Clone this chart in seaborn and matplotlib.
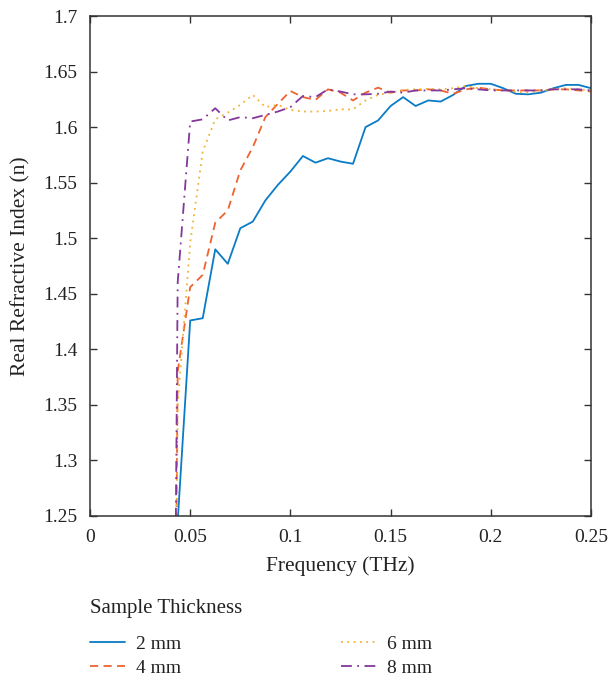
import matplotlib
matplotlib.use("Agg")
import matplotlib.pyplot as plt
import seaborn as sns
import pandas as pd
from matplotlib.ticker import FuncFormatter

freq = [0.0375, 0.04375, 0.05, 0.05625, 0.0625, 0.06875, 0.075, 0.08125, 0.0875, 0.09375,
        0.1, 0.10625, 0.1125, 0.11875, 0.125, 0.13125, 0.1375, 0.14375, 0.15, 0.15625,
        0.1625, 0.16875, 0.175, 0.18125, 0.1875, 0.19375, 0.2, 0.20625, 0.2125, 0.21875,
        0.225, 0.23125, 0.2375, 0.24375, 0.25]

n_2mm = [0.0, 1.245, 1.426, 1.428, 1.490, 1.477, 1.509, 1.515, 1.534, 1.548,
         1.560, 1.574, 1.568, 1.572, 1.569, 1.567, 1.600, 1.606, 1.619, 1.627,
         1.619, 1.624, 1.623, 1.629, 1.637, 1.639, 1.639, 1.635, 1.630, 1.6295,
         1.631, 1.635, 1.638, 1.638, 1.635]

n_4mm = [0.0, 1.38, 1.456, 1.467, 1.514, 1.525, 1.561, 1.582, 1.609, 1.621,
         1.6325, 1.627, 1.6245, 1.634, 1.631, 1.624, 1.631, 1.6355, 1.631, 1.633,
         1.633, 1.634, 1.633, 1.630, 1.634, 1.6355, 1.634, 1.633, 1.633, 1.633,
         1.633, 1.634, 1.634, 1.633, 1.632]

n_6mm = [0.0, 1.35, 1.496, 1.578, 1.607, 1.613, 1.620, 1.629, 1.618, 1.620,
         1.6155, 1.614, 1.614, 1.6145, 1.616, 1.616, 1.624, 1.629, 1.631, 1.6335,
         1.634, 1.6345, 1.634, 1.635, 1.637, 1.635, 1.634, 1.633, 1.632, 1.631,
         1.633, 1.634, 1.635, 1.634, 1.633]

n_8mm = [0.0, 1.46, 1.605, 1.607, 1.617, 1.606, 1.609, 1.608, 1.611, 1.614,
         1.618, 1.628, 1.627, 1.634, 1.632, 1.6295, 1.6295, 1.630, 1.632, 1.631,
         1.633, 1.633, 1.633, 1.634, 1.635, 1.634, 1.633, 1.633, 1.633, 1.633,
         1.633, 1.634, 1.634, 1.634, 1.633]

labels = ["2 mm", "4 mm", "6 mm", "8 mm"]
x_ticks = [0, 0.05, 0.1, 0.15, 0.2, 0.25]
y_ticks = [1.25, 1.3, 1.35, 1.4, 1.45, 1.5, 1.55, 1.6, 1.65, 1.7]

series = [n_2mm, n_4mm, n_6mm, n_8mm]
df = pd.concat([pd.DataFrame({"Frequency": freq, "n": s, "Thickness": lab})
                for s, lab in zip(series, labels)], ignore_index=True)

sns.set_style("ticks")
plt.rcParams["font.family"] = ["Liberation Serif", "DejaVu Serif"]

palette = {"2 mm": "#0A7BC6", "4 mm": "#EE6330", "6 mm": "#F2B233", "8 mm": "#83379A"}
dashes = {"2 mm": "", "4 mm": (4.5, 3), "6 mm": (1, 2.5), "8 mm": (6, 3, 1, 3)}

fig = plt.figure(figsize=(6.09, 6.82), dpi=100)
ax = fig.add_axes([90/609, 1-516/682, (591-90)/609, (516-16)/682])

sns.lineplot(data=df, x="Frequency", y="n", hue="Thickness", style="Thickness",
             palette=palette, dashes=dashes, linewidth=1.3, ax=ax, legend=True,
             sort=False, estimator=None)

ax.set_xlim(0, 0.25)
ax.set_ylim(1.25, 1.7)
ax.set_xticks(x_ticks)
ax.set_yticks(y_ticks)
fmt = FuncFormatter(lambda v, p: f"{v:g}")
ax.xaxis.set_major_formatter(fmt)
ax.yaxis.set_major_formatter(fmt)
ax.tick_params(direction="in", top=True, right=True, length=5, width=1,
               labelsize=14, color="#333333", labelcolor="#222222")
ax.tick_params(axis="x", pad=9)
ax.tick_params(axis="y", pad=9)
for sp in ax.spines.values():
    sp.set_visible(True)
    sp.set_color("#333333")
    sp.set_linewidth(1.1)

ax.set_xlabel("Frequency (THz)", fontsize=15.5, color="#222222", labelpad=8)
ax.set_ylabel("Real Refractive Index (n)", fontsize=15.5, color="#222222", labelpad=9)

handles, labs = ax.get_legend_handles_labels()
ax.get_legend().remove()
fig.text(90/609, 1-608/682, "Sample Thickness", ha="left", va="center",
         fontsize=15, color="#222222")
leg = ax.legend(handles, labs, loc="upper left", bbox_to_anchor=(90/609, 1-635/682),
                bbox_transform=fig.transFigure, ncol=2, frameon=False,
                borderpad=0, borderaxespad=0, fontsize=14, handlelength=1.8,
                handletextpad=0.57, labelspacing=0.36, columnspacing=8.2)
for t in leg.get_texts():
    t.set_color("#222222")

fig.savefig("out.png", dpi=100)
